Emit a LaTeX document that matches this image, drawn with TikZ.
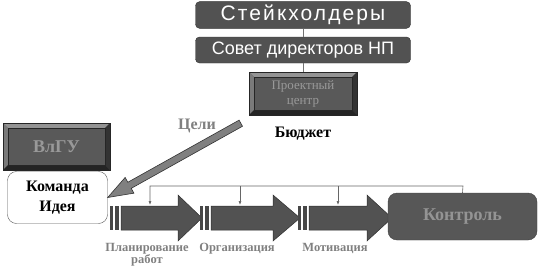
\documentclass[tikz,border=0pt]{standalone}
\usepackage{fontspec}
\setmainfont{Liberation Serif}
\setsansfont{Liberation Sans}
\usetikzlibrary{arrows.meta, positioning, calc}

\begin{document}
\begin{tikzpicture}[x=1pt, y=1pt,
          darkbox/.style={rectangle, fill=black!68, draw=black!80, rounded corners=4pt, minimum width=215pt, minimum height=26pt, text=white, font=\sffamily},
          bevelbox/.style={rectangle, fill=black!65, draw=black!85, text=black!40, align=center, inner sep=1pt,
            path picture={
              \path (path picture bounding box.north west) coordinate (bv1) (path picture bounding box.north east) coordinate (bv2)
                    (path picture bounding box.south east) coordinate (bv3) (path picture bounding box.south west) coordinate (bv4);
              \fill[black!42] (bv1) -- (bv2) -- ($(bv2)+(-5pt,-5pt)$) -- ($(bv1)+(5pt,-5pt)$) -- cycle;
              \fill[black!52] (bv1) -- (bv4) -- ($(bv4)+(5pt,5pt)$) -- ($(bv1)+(5pt,-5pt)$) -- cycle;
              \fill[black!80] (bv2) -- (bv3) -- ($(bv3)+(-5pt,5pt)$) -- ($(bv2)+(-5pt,-5pt)$) -- cycle;
              \fill[black!86] (bv4) -- (bv3) -- ($(bv3)+(-5pt,5pt)$) -- ($(bv4)+(5pt,5pt)$) -- cycle;
              \draw[black!85] ($(bv1)+(5pt,-5pt)$) rectangle ($(bv3)+(-5pt,5pt)$);
            }},
          teambox/.style={rectangle, draw=black!65, fill=white, rounded corners=9pt, minimum width=100pt, minimum height=52pt, align=center, font=\bfseries\fontsize{16}{20}\selectfont},
          ctlbox/.style={rectangle, draw=black!75, fill=black!66, rounded corners=9pt, minimum width=149pt, minimum height=47pt, text=black!42, font=\bfseries\fontsize{18}{20}\selectfont},
          procarrow/.style={fill=black!68, draw=black!82, line width=0.5pt},
          stripe/.style={fill=black!72},
          steplabel/.style={align=center, text=black!50, inner sep=1pt, font=\bfseries\fontsize{12.5}{11}\selectfont},
          linkline/.style={draw=black!55, line width=0.6pt},
          fbline/.style={draw=black!60, line width=0.6pt},
          fbarrow/.style={fbline, -{Latex[length=4pt, width=3pt]}},
          goalarrow/.style={fill=black!50, draw=black!80, line width=0.6pt}]

        \useasboundingbox (0,0) rectangle (539,-268);

        % top of the hierarchy
        \node [darkbox, font=\sffamily\addfontfeature{LetterSpace=10}\fontsize{21}{22}\selectfont] (stake) at (303,-15) {Стейкхолдеры};
        \node [darkbox, font=\sffamily\fontsize{18}{20}\selectfont] (board) at (303,-50) {Совет директоров НП};
        \node [bevelbox, minimum width=108pt, minimum height=43pt, font=\fontsize{13}{15}\selectfont] (pc) at (303,-93.5) {Проектный\\центр};
        \node [font=\bfseries\fontsize{16}{18}\selectfont, below=8pt of pc] (budget) {Бюджет};

        \draw [linkline] (stake) -- (board);
        \draw [linkline] (board) -- (pc);

        % university and team
        \node [teambox] (team) at (57.5,-197.5) {Команда\\Идея};
        \node [bevelbox, minimum width=107pt, minimum height=47pt, font=\bfseries\fontsize{18}{20}\selectfont] (vlgu) at (56.5,-146.5) {ВлГУ};

        % goals arrow
        \coordinate (goaltail) at ($(pc.south west)+(-8pt,-8pt)$);
        \coordinate (goalhead) at ($(team.east)!25pt!(goaltail)$);
        \fill [goalarrow] ($(goaltail)!3.5pt!90:(team.east)$) -- ($(goalhead)!3.5pt!-90:(goaltail)$) -- ($(goalhead)!9pt!-90:(goaltail)$)
              -- (team.east) -- ($(goalhead)!9pt!90:(goaltail)$) -- ($(goalhead)!3.5pt!90:(goaltail)$) -- ($(goaltail)!3.5pt!-90:(team.east)$) -- cycle;
        \node [font=\bfseries\fontsize{16}{18}\selectfont, text=black!50] (goals) at (197,-126) {Цели};

        % process steps
        \foreach \xs/\xb/\xh/\xt/\xf/\n/\txt in {110/121/178/202/150/1/Планирование\\работ, 200/211/273/300/240/2/Организация, 298/309/367/392/338/3/Мотивация} {
          \fill [stripe] (\xs,-206) rectangle ++(3,-24);
          \fill [stripe] (\xs+5,-206) rectangle ++(4,-24);
          \draw [procarrow] (\xb,-206) -- (\xh,-206) -- (\xh,-195) -- (\xt,-218) -- (\xh,-241) -- (\xh,-230) -- (\xb,-230) -- cycle;
          \coordinate (top\n) at (\xf,-205);
          \node [steplabel, anchor=north] (lbl\n) at (\xf-3,-242) {\txt};
        }

        \node [ctlbox] (ctl) at (462.5,-216.5) {Контроль};

        % feedback from control
        \coordinate (fb) at (463,-186);
        \draw [fbarrow] (ctl.north) -- (fb) -- (fb -| top1) -- (top1);
        \draw [fbarrow] (fb -| top2) -- (top2);
        \draw [fbarrow] (fb -| top3) -- (top3);
      \end{tikzpicture}
\end{document}
